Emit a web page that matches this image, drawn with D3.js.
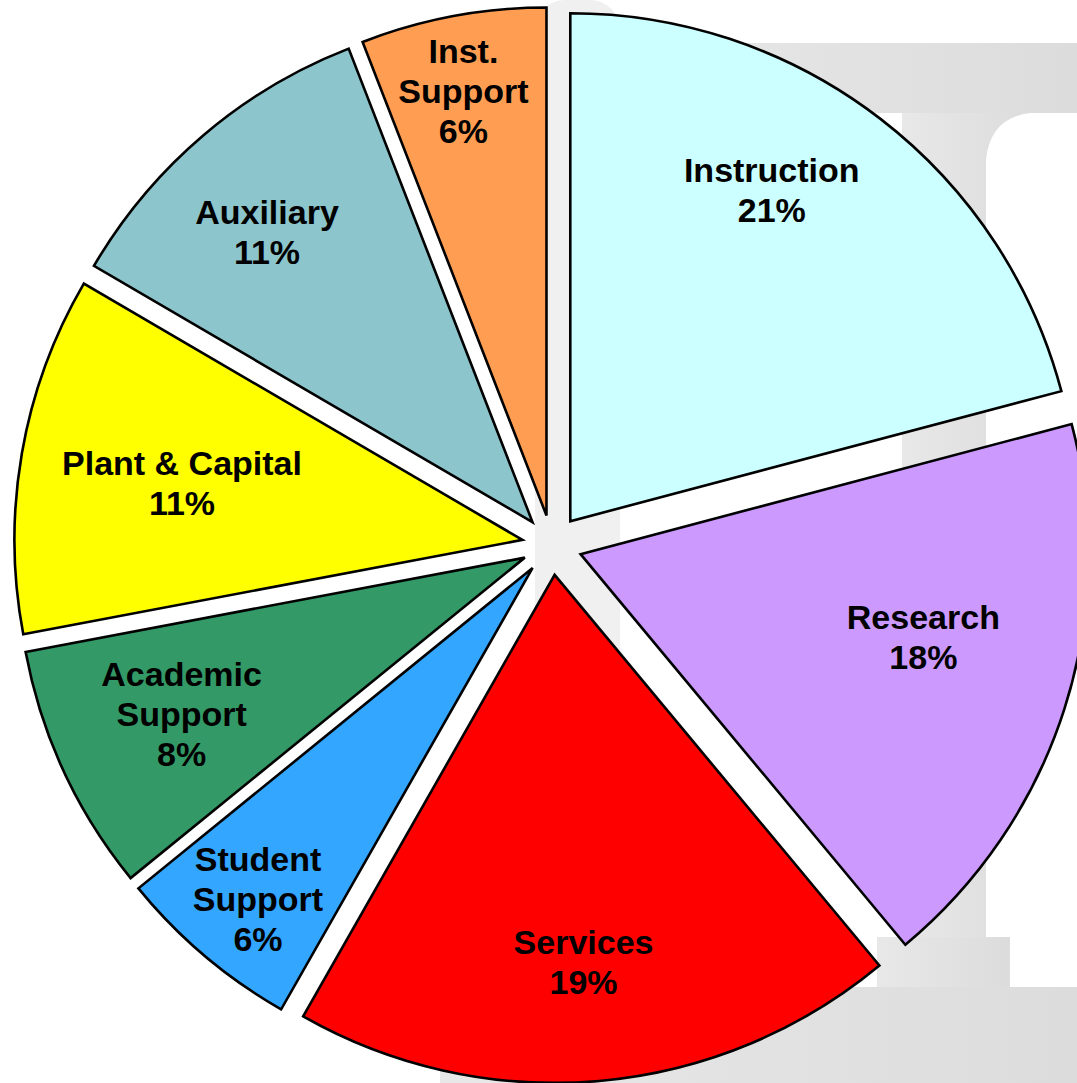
<!DOCTYPE html>
<html>
<head>
<meta charset="utf-8">
<script src="https://cdn.jsdelivr.net/npm/d3@7"></script>
<style>
  html, body { margin: 0; padding: 0; background: #fff; }
  svg { display: block; }
  .label { font-family: "Liberation Sans", Arial, sans-serif; font-weight: bold; font-size: 34px; fill: #000; }
</style>
</head>
<body>
<svg id="chart" width="1077" height="1083"></svg>
<script>
// data (clockwise from 12 o'clock)
const categories = ['Instruction', 'Research', 'Services', 'Student Support',
                    'Academic Support', 'Plant & Capital', 'Auxiliary', 'Inst. Support'];
const values = [20.9, 18.1, 19.3, 5.9, 7.9, 11.4, 10.7, 5.9];
const percentLabels = ['21%', '18%', '19%', '6%', '8%', '11%', '11%', '6%'];
const nameLines = [['Instruction'], ['Research'], ['Services'], ['Student', 'Support'],
                   ['Academic', 'Support'], ['Plant & Capital'], ['Auxiliary'], ['Inst.', 'Support']];
const colors = ['#CCFFFF', '#CC99FF', '#FF0000', '#33A6FF',
                '#339966', '#FFFF00', '#8CC5CC', '#FF9E52'];

document.addEventListener('DOMContentLoaded', function () {
    const svg = d3.select('#chart');
    const cx = 552, cy = 545;
    const radius = 508;
    const explode = 30;
    const lineH = 40;

    // background watermark (light grey column shape)
    const defs = svg.append('defs');
    const grad = defs.append('linearGradient').attr('id', 'wm').attr('x1', '0%').attr('x2', '100%');
    grad.append('stop').attr('offset', '0%').attr('stop-color', '#e8e8e8');
    grad.append('stop').attr('offset', '100%').attr('stop-color', '#dcdcdc');

    svg.append('rect').attr('x', 535).attr('y', 0).attr('width', 85).attr('height', 1083)
        .attr('rx', 30).attr('fill', '#f0f0f0');
    const wm = svg.append('g').attr('fill', 'url(#wm)');
    wm.append('rect').attr('x', 620).attr('y', 43).attr('width', 457).attr('height', 70);
    wm.append('path').attr('d', 'M902,113 L1030,113 Q990,118 986,160 L986,990 L902,990 Z');
    wm.append('rect').attr('x', 877).attr('y', 937).attr('width', 133).attr('height', 55);
    wm.append('rect').attr('x', 440).attr('y', 987).attr('width', 637).attr('height', 96);

    const pie = d3.pie().sort(null).value(d => d.value);
    const arc = d3.arc().innerRadius(0).outerRadius(radius);
    const data = categories.map((c, i) => ({
        name: c, value: values[i], pct: percentLabels[i], lines: nameLines[i], color: colors[i]
    }));
    const arcs = pie(data);

    // small nudges so labels sit where the original placed them
    const labelNudge = {
        'Instruction': [-34, -25], 'Research': [-25, -35], 'Services': [-5, 3],
        'Student Support': [-25, 37], 'Academic Support': [7, -6], 'Plant & Capital': [40, 9],
        'Auxiliary': [-15, 4], 'Inst. Support': [-12, -45]
    };

    const g = svg.append('g').attr('transform', `translate(${cx},${cy})`);

    const slices = g.selectAll('.slice')
        .data(arcs)
        .enter()
        .append('g')
        .attr('class', 'slice')
        .attr('transform', d => {
            const a = (d.startAngle + d.endAngle) / 2;
            return `translate(${explode * Math.sin(a)},${-explode * Math.cos(a)})`;
        });

    slices.append('path')
        .attr('d', arc)
        .attr('fill', d => d.data.color)
        .attr('stroke', '#000')
        .attr('stroke-width', 2.6)
        .attr('stroke-linejoin', 'miter');

    const labelR = radius * 0.76;
    slices.append('text')
        .attr('class', 'label')
        .attr('text-anchor', 'middle')
        .each(function (d) {
            const a = (d.startAngle + d.endAngle) / 2;
            const nudge = labelNudge[d.data.name];
            const x = labelR * Math.sin(a) + nudge[0];
            const y = -labelR * Math.cos(a) + nudge[1];
            const lines = d.data.lines.concat([d.data.pct]);
            const top = y - (lines.length - 1) * lineH / 2 + 12;
            const t = d3.select(this);
            lines.forEach((ln, k) => {
                t.append('tspan').attr('x', x).attr('y', top + k * lineH).text(ln);
            });
        });
});
</script>
</body>
</html>
